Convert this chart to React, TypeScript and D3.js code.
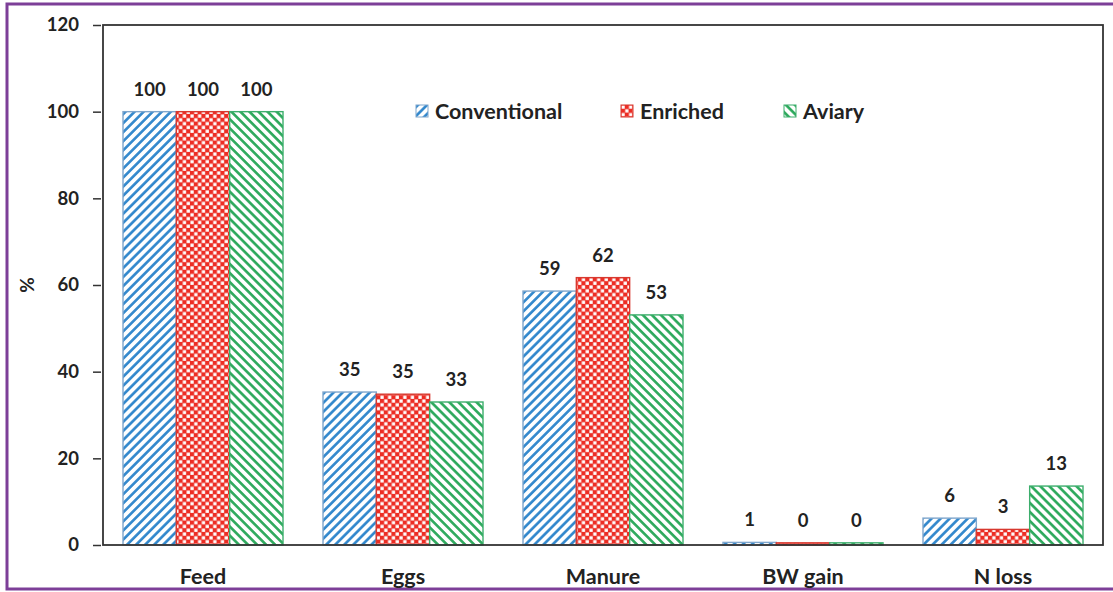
import React, { useEffect, useRef } from 'react';
import * as d3 from 'd3';

const categories = ['Feed', 'Eggs', 'Manure', 'BW gain', 'N loss'];
const seriesNames = ['Conventional', 'Enriched', 'Aviary'];
const conventional = [100, 35.3, 58.6, 0.6, 6.2];
const enriched = [100, 34.8, 61.7, 0.5, 3.6];
const aviary = [100, 33.0, 53.1, 0.5, 13.6];
const labels = [
  ['100', '35', '59', '1', '6'],
  ['100', '35', '62', '0', '3'],
  ['100', '33', '53', '0', '13'],
];
const yTicks = [0, 20, 40, 60, 80, 100, 120];

const W = 1113;
const H = 592;
const FONT = 'Lato, "Open Sans", sans-serif';

export default function App() {
  const svgRef = useRef<SVGSVGElement>(null);

  useEffect(() => {
    const el = svgRef.current;
    if (!el) return;
    const svg = d3.select(el);
    svg.selectAll('*').remove();

    const values = [conventional, enriched, aviary];
    const colors = ['#2f86cc', '#ec2d24', '#2aa85a'];
    const strokes = ['#7fa6cc', '#d8392f', '#3cae6c'];

    const defs = svg.append('defs');
    const P = 6.4;
    // blue "/" stripes
    const pBlue = defs.append('pattern')
      .attr('id', 'pat0').attr('patternUnits', 'userSpaceOnUse')
      .attr('width', P).attr('height', P)
      .attr('patternTransform', 'rotate(45)');
    pBlue.append('rect').attr('width', P).attr('height', P).attr('fill', '#fff');
    pBlue.append('line').attr('x1', 1.4).attr('x2', 1.4).attr('y1', 0).attr('y2', P)
      .attr('stroke', colors[0]).attr('stroke-width', 2.6);
    // red checkerboard
    const pRed = defs.append('pattern')
      .attr('id', 'pat1').attr('patternUnits', 'userSpaceOnUse')
      .attr('width', 7.6).attr('height', 7.6);
    pRed.append('rect').attr('width', 7.6).attr('height', 7.6).attr('fill', colors[1]);
    pRed.append('rect').attr('x', 0.4).attr('y', 0.4).attr('width', 3.3).attr('height', 3.3).attr('fill', '#fff');
    pRed.append('rect').attr('x', 4.2).attr('y', 4.2).attr('width', 3.3).attr('height', 3.3).attr('fill', '#fff');
    // green "\" stripes
    const pGreen = defs.append('pattern')
      .attr('id', 'pat2').attr('patternUnits', 'userSpaceOnUse')
      .attr('width', P).attr('height', P)
      .attr('patternTransform', 'rotate(-45)');
    pGreen.append('rect').attr('width', P).attr('height', P).attr('fill', '#fff');
    pGreen.append('line').attr('x1', 1.4).attr('x2', 1.4).attr('y1', 0).attr('y2', P)
      .attr('stroke', colors[2]).attr('stroke-width', 2.6);

    // purple outer border
    svg.append('rect')
      .attr('x', 7).attr('y', 4).attr('width', 1120).attr('height', 585)
      .attr('fill', 'none').attr('stroke', '#7d3f98').attr('stroke-width', 3);

    const left = 103, right = 1103, top = 25, bottom = 545;
    const x0 = d3.scaleBand<string>().domain(categories).range([left, right])
      .paddingInner(0.2).paddingOuter(0.1);
    const x1 = d3.scaleBand<string>().domain(seriesNames).range([0, x0.bandwidth()]);
    const y = d3.scaleLinear().domain([0, 120]).range([bottom, top]);

    // bars
    seriesNames.forEach((s, si) => {
      const g = svg.append('g');
      g.selectAll('rect')
        .data(categories)
        .enter()
        .append('rect')
        .attr('x', c => (x0(c) ?? 0) + (x1(s) ?? 0))
        .attr('y', (_, i) => y(values[si][i]))
        .attr('width', x1.bandwidth())
        .attr('height', (_, i) => bottom - y(values[si][i]))
        .attr('fill', `url(#pat${si})`)
        .attr('stroke', strokes[si])
        .attr('stroke-width', 1.4);
      g.selectAll('text')
        .data(categories)
        .enter()
        .append('text')
        .attr('x', c => (x0(c) ?? 0) + (x1(s) ?? 0) + x1.bandwidth() / 2)
        .attr('y', (_, i) => y(values[si][i]) - 16)
        .attr('text-anchor', 'middle')
        .style('font-family', FONT)
        .style('font-weight', 'bold')
        .style('font-size', '18.5px')
        .attr('fill', '#222')
        .text((_, i) => labels[si][i]);
    });

    // plot frame
    svg.append('rect')
      .attr('x', left).attr('y', top).attr('width', right - left).attr('height', bottom - top)
      .attr('fill', 'none').attr('stroke', '#333').attr('stroke-width', 1.8);

    // y axis
    const yAxis = svg.append('g')
      .attr('transform', `translate(${left - 2},0)`)
      .call(d3.axisLeft(y).tickValues(yTicks).tickSize(8).tickPadding(14));
    yAxis.select('.domain').remove();
    yAxis.selectAll('line').attr('stroke', '#333').attr('stroke-width', 1.5);
    yAxis.selectAll('text')
      .style('font-family', FONT)
      .style('font-weight', 'bold')
      .style('font-size', '18.5px')
      .attr('fill', '#222');

    // x labels
    svg.append('g')
      .selectAll('text')
      .data(categories)
      .enter()
      .append('text')
      .attr('x', c => (x0(c) ?? 0) + x0.bandwidth() / 2)
      .attr('y', 584)
      .attr('text-anchor', 'middle')
      .style('font-family', FONT)
      .style('font-weight', 'bold')
      .style('font-size', '21.5px')
      .attr('fill', '#222')
      .text(c => c);

    // y title
    svg.append('text')
      .attr('transform', 'translate(34,285) rotate(-90)')
      .attr('text-anchor', 'middle')
      .style('font-family', FONT)
      .style('font-weight', 'bold')
      .style('font-size', '19px')
      .attr('fill', '#222')
      .text('%');

    // legend
    const legendX = [416, 621, 784];
    seriesNames.forEach((s, si) => {
      const lg = svg.append('g').attr('transform', `translate(${legendX[si]},105)`);
      lg.append('rect').attr('width', 12).attr('height', 12)
        .attr('fill', `url(#pat${si})`).attr('stroke', strokes[si]).attr('stroke-width', 1);
      lg.append('text')
        .attr('x', 19).attr('y', 13.5)
        .style('font-family', FONT)
        .style('font-weight', 'bold')
        .style('font-size', '21.5px')
        .attr('fill', '#222')
        .text(s);
    });
  }, []);

  return (
    <div style={{ position: 'absolute', left: 0, top: 0, width: W, height: H, background: '#fff' }}>
      <svg ref={svgRef} width={W} height={H} />
    </div>
  );
}
